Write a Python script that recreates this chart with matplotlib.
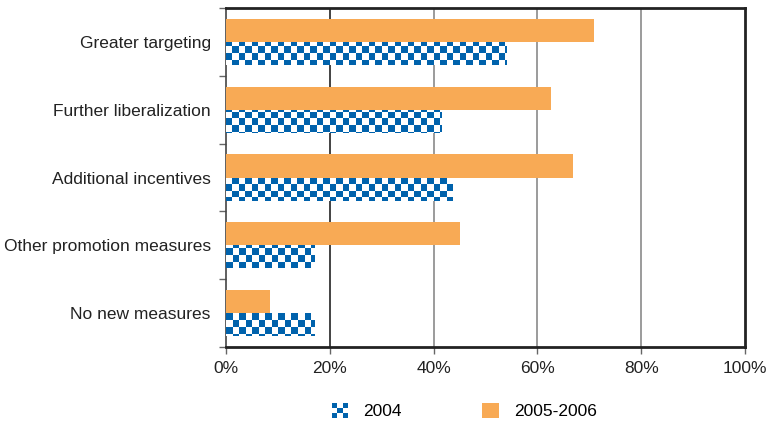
import numpy as np
import matplotlib.pyplot as plt
from matplotlib.patches import Rectangle
from matplotlib.legend_handler import HandlerBase
from matplotlib.ticker import FuncFormatter, FixedLocator

plt.rcParams['font.family'] = ['Liberation Sans', 'DejaVu Sans']

categories = ["Greater targeting", "Further liberalization", "Additional incentives",
              "Other promotion measures", "No new measures"]
vals_2004 = [54.1, 41.6, 43.7, 17.0, 17.0]
vals_2005 = [70.9, 62.6, 66.9, 45.1, 8.5]

BLUE = "#0062AC"
ORANGE = "#F8AA55"
FS = 12.5

fig = plt.figure(figsize=(7.67, 4.26), dpi=100)
ax = fig.add_axes([0.2947, 0.1854, 0.6766, 0.7958])

y = np.arange(len(categories))
h = 0.34
ax.barh(y - h / 2, vals_2005, height=h, color=ORANGE, zorder=3)
bars04 = ax.barh(y + h / 2, vals_2004, height=h, color="white", zorder=3)

ax.set_xlim(0, 100)
ax.set_ylim(len(categories) - 0.5, -0.5)

# checkerboard fill for 2004 bars
nx, ny = 80, 52
chk = (np.add.outer(np.arange(ny), np.arange(nx)) % 2).astype(float)
cmap = plt.matplotlib.colors.ListedColormap(["white", BLUE])
for b in bars04:
    im = ax.imshow(chk, cmap=cmap, extent=(0, 100, len(categories) - 0.5, -0.5),
                   aspect="auto", interpolation="nearest", zorder=4)
    im.set_clip_path(b)
ax.set_aspect("auto")
ax.set_xlim(0, 100)
ax.set_ylim(len(categories) - 0.5, -0.5)

# grid
for gx, col in [(20, "#222222"), (40, "#8a8a8a"), (60, "#8a8a8a"), (80, "#8a8a8a")]:
    ax.axvline(gx, color=col, lw=1.2, zorder=1)

ax.set_xticks([0, 20, 40, 60, 80, 100])
ax.xaxis.set_major_formatter(FuncFormatter(lambda v, p: f"{v:.0f}%"))
ax.set_yticks(y)
ax.set_yticklabels(categories)
ax.yaxis.set_minor_locator(FixedLocator(np.arange(-0.5, len(categories), 1.0)))
ax.tick_params(axis="y", which="major", length=0, pad=11, labelsize=FS, labelcolor="#222222")
ax.tick_params(axis="y", which="minor", length=5, width=1, color="#666666", direction="out")
ax.tick_params(axis="x", length=5, width=1, color="#666666", labelsize=FS,
               labelcolor="#222222", pad=5)

for s in ["top", "bottom", "right"]:
    ax.spines[s].set_linewidth(2)
    ax.spines[s].set_color("#222222")
ax.spines["left"].set_linewidth(1.2)
ax.spines["left"].set_color("#444444")


class CheckerHandler(HandlerBase):
    def create_artists(self, legend, orig_handle, xdescent, ydescent, width, height,
                       fontsize, trans):
        s = min(width, height) / 3
        x0 = -xdescent + (width - 3 * s) / 2
        y0 = -ydescent + (height - 3 * s) / 2
        arts = []
        for i in range(3):
            for j in range(3):
                if (i + j) % 2 == 0:
                    r = Rectangle((x0 + i * s, y0 + j * s), s, s, facecolor=BLUE,
                                  edgecolor="none", transform=trans)
                    arts.append(r)
        return arts


h04 = Rectangle((0, 0), 1, 1)
h05 = Rectangle((0, 0), 1, 1, facecolor=ORANGE)
fig.legend([h04, h05], ["2004", "2005-2006"], loc="center",
           bbox_to_anchor=(0.605, 0.035), ncol=2, frameon=False, fontsize=FS,
           handler_map={h04: CheckerHandler()}, handlelength=1.0, handleheight=1.0,
           columnspacing=4.6, handletextpad=0.85)

fig.savefig("out.png", dpi=100)
